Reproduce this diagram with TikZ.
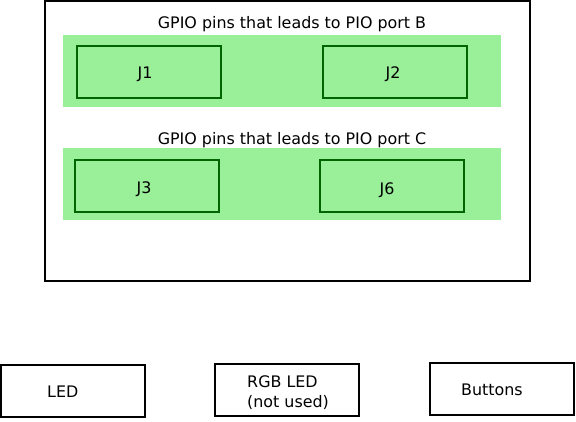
\documentclass[tikz,border=0pt]{standalone}
\usepackage{fontspec}
\setmainfont{DejaVu Sans}
\definecolor{bandgreen}{RGB}{153,240,153}
\definecolor{pindark}{RGB}{0,100,0}

\begin{document}
\begin{tikzpicture}[x=1pt, y=-1pt, font=\fontsize{15.9}{20}\selectfont,
    band/.style = {fill=bandgreen, draw=none, minimum width=438pt, minimum height=72pt, inner sep=0pt},
    pin/.style = {draw=pindark, line width=1.6pt, minimum width=144pt, minimum height=52pt, inner sep=0pt},
    part/.style = {draw, line width=1.4pt, minimum width=144pt, minimum height=52pt, inner sep=0pt}]
    \useasboundingbox (0,0) rectangle (576,421);
    \node[draw, line width=1.4pt, minimum width=485pt, minimum height=280pt, inner sep=0pt] (board) at (287.5,141) {};

    \node[band] (portb) at (282,71) {};
    \node at (292,24) {GPIO pins that leads to PIO port B};
    \node[pin] (j1) at (149,72) {};
    \node[pin] (j2) at (395,72) {};
    \node at (145,74) {J1};
    \node at (393,74) {J2};

    \node[band] (portc) at (282,184) {};
    \node at (292,140) {GPIO pins that leads to PIO port C};
    \node[pin] (j3) at (147,186) {};
    \node[pin] (j6) at (392,186) {};
    \node at (144,189) {J3};
    \node at (387,190) {J6};

    \node[part] (led) at (73,391) {};
    \node[part] (rgb) at (287,390) {};
    \node[part] (btn) at (502,389) {};
    \node[anchor=west, inner sep=0pt] at (47,392) {LED};
    \node[anchor=west, align=left, inner sep=0pt] at (247,393) {RGB LED\\(not used)};
    \node[anchor=west, inner sep=0pt] at (461,390) {Buttons};

\end{tikzpicture}
\end{document}
